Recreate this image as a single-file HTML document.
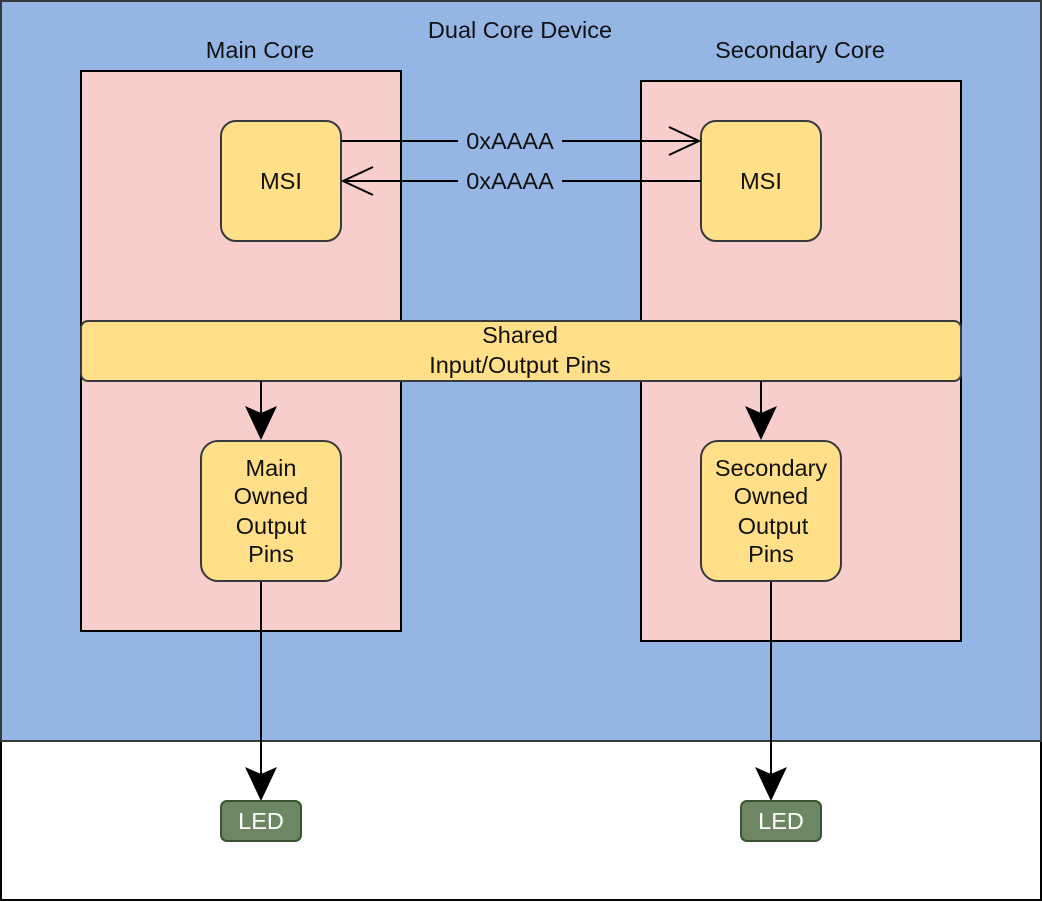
<!DOCTYPE html>
<html><head><style>body{margin:0;background:#fff}svg{display:block}</style></head><body>
<svg width="1042" height="902" viewBox="0 0 1042 902" xmlns="http://www.w3.org/2000/svg" font-family="Liberation Sans, Arial, sans-serif" font-size="23.5">
<rect x="1" y="741" width="1040" height="159" fill="#fff" stroke="#000" stroke-width="2"/>
<rect x="1" y="1" width="1040" height="740" fill="#95b6e5" stroke="#36393d" stroke-width="2"/>
<text x="520" y="38" text-anchor="middle" fill="#111">Dual Core Device</text>
<text x="260" y="58" text-anchor="middle" fill="#111">Main Core</text>
<text x="800" y="58" text-anchor="middle" fill="#111">Secondary Core</text>
<rect x="81" y="71" width="320" height="560" fill="#f8cecc" stroke="#000" stroke-width="2"/>
<rect x="641" y="81" width="320" height="560" fill="#f8cecc" stroke="#000" stroke-width="2"/>
<rect x="221" y="121" width="120" height="120" rx="15" fill="#ffdf88" stroke="#36393d" stroke-width="2"/>
<rect x="701" y="121" width="120" height="120" rx="15" fill="#ffdf88" stroke="#36393d" stroke-width="2"/>
<text x="281" y="189" text-anchor="middle" fill="#111">MSI</text>
<text x="761" y="189" text-anchor="middle" fill="#111">MSI</text>
<g stroke="#000" stroke-width="2" fill="none">
<line x1="341" y1="141" x2="699" y2="141"/>
<polyline points="669,127 699,141 669,155"/>
<line x1="701" y1="181" x2="343" y2="181"/>
<polyline points="373,167 343,181 373,195"/>
</g>
<rect x="458" y="127" width="104" height="28" fill="#95b6e5"/>
<rect x="458" y="167" width="104" height="28" fill="#95b6e5"/>
<text x="510" y="149" text-anchor="middle" fill="#111">0xAAAA</text>
<text x="510" y="189" text-anchor="middle" fill="#111">0xAAAA</text>
<rect x="81" y="321" width="880" height="60" rx="7" fill="#ffdf88" stroke="#36393d" stroke-width="2"/>
<text x="520" y="343" text-anchor="middle" fill="#111">Shared</text>
<text x="520" y="373" text-anchor="middle" fill="#111">Input/Output Pins</text>
<g stroke="#000" stroke-width="2">
<line x1="261" y1="381" x2="261" y2="420"/>
<line x1="761" y1="381" x2="761" y2="420"/>
<line x1="261" y1="581" x2="261" y2="780"/>
<line x1="771" y1="581" x2="771" y2="780"/>
</g>
<g fill="#000">
<polygon points="245,406 261,413 277,406 261,440"/>
<polygon points="745,406 761,413 777,406 761,440"/>
<polygon points="245,767 261,774 277,767 261,801"/>
<polygon points="755,767 771,774 787,767 771,801"/>
</g>
<rect x="201" y="441" width="140" height="140" rx="17" fill="#ffdf88" stroke="#36393d" stroke-width="2"/>
<rect x="701" y="441" width="140" height="140" rx="17" fill="#ffdf88" stroke="#36393d" stroke-width="2"/>
<g text-anchor="middle" fill="#111">
<text x="271" y="476">Main</text><text x="271" y="504">Owned</text><text x="271" y="534">Output</text><text x="271" y="562">Pins</text>
<text x="771" y="476">Secondary</text><text x="771" y="504">Owned</text><text x="773" y="534">Output</text><text x="771" y="562">Pins</text>
</g>
<rect x="221" y="801" width="80" height="40" rx="6" fill="#6d8764" stroke="#3a5431" stroke-width="2"/>
<rect x="741" y="801" width="80" height="40" rx="6" fill="#6d8764" stroke="#3a5431" stroke-width="2"/>
<text x="261" y="829" text-anchor="middle" fill="#fff">LED</text>
<text x="781" y="829" text-anchor="middle" fill="#fff">LED</text>
</svg>
</body></html>
